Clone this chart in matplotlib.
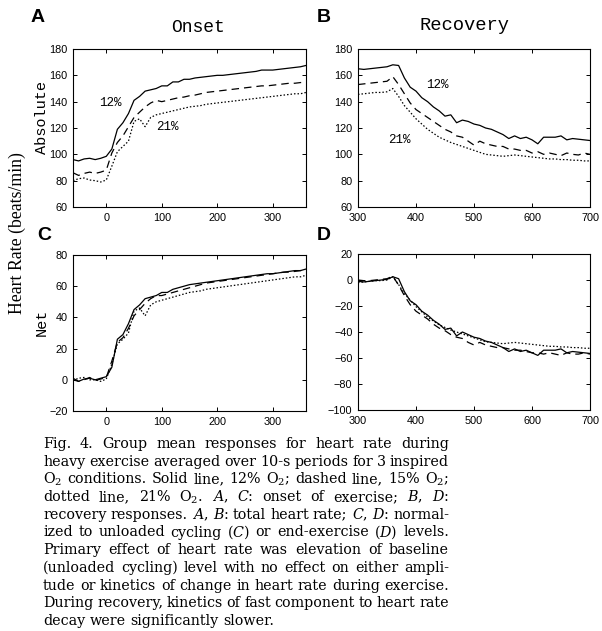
import matplotlib
matplotlib.use("Agg")
import matplotlib.pyplot as plt

# --- data (heart rate, 10-s means) ---
t_onset = [-60, -50, -40, -30, -20, -10, 0, 10, 20, 30, 40, 50, 60, 70, 80, 90, 100,
           110, 120, 130, 140, 150, 160, 170, 180, 190, 200, 210, 220, 230, 240, 250,
           260, 270, 280, 290, 300, 310, 320, 330, 340, 350, 360]
t_recov = [300, 310, 320, 330, 340, 350, 360, 370, 380, 390, 400, 410, 420, 430, 440,
           450, 460, 470, 480, 490, 500, 510, 520, 530, 540, 550, 560, 570, 580, 590,
           600, 610, 620, 630, 640, 650, 660, 670, 680, 690, 700]

abs_onset_12 = [96, 95, 96.5, 97, 96, 97, 98.5, 104, 119, 124, 131, 141, 144, 148, 149, 150,
                152, 152, 155, 155, 157, 157, 158, 158.5, 159, 159.5, 160, 160, 160.5, 161,
                161.5, 162, 162.5, 163, 164, 164, 164, 164.5, 165, 165.5, 166, 166.5, 167.5]
abs_onset_15 = [86, 84, 85.5, 86.5, 85.5, 86.5, 88, 101, 109, 114, 121, 128, 132, 136, 139, 141,
                140, 141, 142, 143, 143.5, 144.5, 145, 146, 147, 147.5, 148, 148.5, 149, 149.5,
                150, 150.5, 151, 151.5, 152, 152, 152.5, 153, 153.5, 154, 154, 154.5, 155]
abs_onset_21 = [80, 81.5, 82, 80.5, 80, 79, 80.5, 91, 102, 106, 110, 125, 127, 121, 128, 130,
                131, 132, 133, 134, 135, 136, 136.5, 137, 138, 138.5, 139, 139.5, 140, 140.5,
                141, 141.5, 142, 142.5, 143, 143.5, 144, 144.5, 145, 145.5, 146, 146, 147]

abs_recov_12 = [165, 164.5, 165, 165.5, 166, 166.5, 168, 167.5, 158, 151, 148, 143, 140, 136,
                133, 129, 130, 124, 126, 125, 123, 122, 120, 119, 117, 115, 112, 114, 112, 113,
                111, 108, 113, 113, 113, 114, 111, 112, 111.5, 111, 110.5]
abs_recov_15 = [153, 153.5, 154, 154.5, 155, 155.5, 159, 153, 146, 139, 134, 131, 128, 125,
                122, 119, 117, 114, 113, 110, 107, 110, 108, 107, 106, 106, 104, 104, 103, 103,
                101, 102, 100, 101, 100, 99, 101, 100, 99.5, 101, 100]
abs_recov_21 = [145.5, 146, 146.5, 147, 147, 147.5, 150, 144, 137, 132, 127, 123, 119, 116,
                113, 111, 109, 107.5, 106, 104.5, 103, 101.5, 100, 99.5, 99, 98.5, 99, 99.5, 99,
                98.5, 98, 97.5, 97, 96.5, 96.5, 96, 96, 95.5, 95.5, 95, 95]

net_onset_12 = [0, -1, 0.5, 1, 0, 1, 2, 8, 26, 29, 36, 45, 48, 52, 53, 54, 56, 56, 58, 59, 60,
                61, 61.5, 62, 62.5, 63, 63.5, 64, 64.5, 65, 65.5, 66, 66.5, 67, 67.5, 68, 68,
                68.5, 69, 69.5, 70, 70, 71]
net_onset_15 = [1, -1, 0, 1.5, -0.5, 0.5, 1.5, 12, 24, 27, 33, 41, 45, 49, 52, 54, 54, 55, 56,
                57, 58, 59, 60, 61, 62, 62.5, 63, 63.5, 64, 64.5, 65, 65.5, 66, 66.5, 67, 67.5,
                68, 68.5, 69, 69, 69.5, 70, 70.5]
net_onset_21 = [-0.5, 1, 1.5, 0, 0, -1, 0.5, 10, 23, 26, 30, 44, 46, 41, 48, 50, 51, 52, 53,
                54, 55, 56, 56.5, 57, 58, 58.5, 59, 59.5, 60, 60.5, 61, 61.5, 62, 62.5, 63,
                63.5, 64, 64.5, 65, 65.5, 66, 66, 67]

net_recov_12 = [-1, -1.5, -1, -0.5, 0, 0.5, 2.5, 1, -9, -16, -19, -24, -27, -31, -34, -38,
                -37, -43, -40, -42, -44, -45, -47, -48, -50, -52, -55, -53, -55, -54, -56, -58,
                -54, -54, -54, -53, -56, -55, -55.5, -56, -56.5]
net_recov_15 = [0, -0.5, -0.5, 0, 0.5, 1, 3, -4, -12, -19, -24, -27, -30, -34, -37, -39, -42,
                -44, -45, -48, -50, -48, -50, -51, -52, -52, -53, -54, -54, -55, -56, -56, -57,
                -56, -57, -58, -56, -57, -57, -56, -57]
net_recov_21 = [-2, -1.5, -1, -0.5, -0.5, 0, 2.5, -3.5, -10.5, -15.5, -20.5, -24.5, -28.5,
                -31.5, -34.5, -36.5, -38.5, -40, -41.5, -43, -44.5, -46, -47.5, -48, -48.5, -49,
                -48.5, -48, -48.5, -49, -49.5, -50, -50.5, -51, -51, -51.5, -51.5, -52, -52,
                -52.5, -52.5]

caption_lines = [
    "Fig. 4. Group mean responses for heart rate during",
    "heavy exercise averaged over 10-s periods for 3 inspired",
    "O$_2$ conditions. Solid line, 12% O$_2$; dashed line, 15% O$_2$;",
    "dotted line, 21% O$_2$. $A$, $C$: onset of exercise; $B$, $D$:",
    "recovery responses. $A$, $B$: total heart rate; $C$, $D$: normal-",
    "ized to unloaded cycling ($C$) or end-exercise ($D$) levels.",
    "Primary effect of heart rate was elevation of baseline",
    "(unloaded cycling) level with no effect on either ampli-",
    "tude or kinetics of change in heart rate during exercise.",
    "During recovery, kinetics of fast component to heart rate",
    "decay were significantly slower.",
]

plt.rcParams["mathtext.fontset"] = "dejavuserif"

W, H = 602, 631


def fx(px):
    return px / W


def fy(py):
    return 1 - py / H


fig = plt.figure(figsize=(W / 100, H / 100), dpi=100)
fig.patch.set_facecolor("white")

styles = {
    "12": dict(color="black", linestyle="-", linewidth=0.9),
    "15": dict(color="black", linestyle=(0, (6, 4)), linewidth=0.9),
    "21": dict(color="black", linestyle=(0, (1.2, 1.6)), linewidth=0.9),
}


def make_axes(rect, xlim, ylim, xticks, yticks):
    ax = fig.add_axes(rect)
    ax.set_xlim(*xlim)
    ax.set_ylim(*ylim)
    ax.set_xticks(xticks)
    ax.set_yticks(yticks)
    ax.tick_params(direction="in", top=True, right=True, length=3, width=0.7,
                   labelsize=7.8, pad=4)
    for lab in ax.get_xticklabels() + ax.get_yticklabels():
        lab.set_family("Liberation Sans")
    for s in ax.spines.values():
        s.set_linewidth(0.8)
    return ax


ax_a = make_axes([fx(73), fy(207), fx(306) - fx(73), fy(49) - fy(207)],
                 (-60, 360), (60, 180), [0, 100, 200, 300], range(60, 181, 20))
ax_b = make_axes([fx(358), fy(207), fx(590) - fx(358), fy(49) - fy(207)],
                 (300, 700), (60, 180), range(300, 701, 100), range(60, 181, 20))
ax_c = make_axes([fx(73), fy(411), fx(306) - fx(73), fy(255) - fy(411)],
                 (-60, 360), (-20, 80), [0, 100, 200, 300], range(-20, 81, 20))
ax_d = make_axes([fx(358), fy(410), fx(590) - fx(358), fy(254) - fy(410)],
                 (300, 700), (-100, 20), range(300, 701, 100), range(-100, 21, 20))

ax_a.plot(t_onset, abs_onset_12, **styles["12"])
ax_a.plot(t_onset, abs_onset_15, **styles["15"])
ax_a.plot(t_onset, abs_onset_21, **styles["21"])
ax_b.plot(t_recov, abs_recov_12, **styles["12"])
ax_b.plot(t_recov, abs_recov_15, **styles["15"])
ax_b.plot(t_recov, abs_recov_21, **styles["21"])
ax_c.plot(t_onset, net_onset_12, **styles["12"])
ax_c.plot(t_onset, net_onset_15, **styles["15"])
ax_c.plot(t_onset, net_onset_21, **styles["21"])
ax_d.plot(t_recov, net_recov_12, **styles["12"])
ax_d.plot(t_recov, net_recov_15, **styles["15"])
ax_d.plot(t_recov, net_recov_21, **styles["21"])

mono = "Liberation Mono"
ax_a.text(8, 139, "12%", family=mono, fontsize=9, ha="center", va="center")
ax_a.text(110, 121, "21%", family=mono, fontsize=9, ha="center", va="center")
ax_b.text(437, 153, "12%", family=mono, fontsize=9, ha="center", va="center")
ax_b.text(371, 111, "21%", family=mono, fontsize=9, ha="center", va="center")

# titles, panel letters, axis labels
fig.text(fx(198), fy(27), "Onset", family=mono, fontsize=13, ha="center", va="center")
fig.text(fx(464), fy(26), "Recovery", family=mono, fontsize=13.5, ha="center", va="center")
for letter, px, py in [("A", 31, 22), ("B", 317, 22), ("C", 37, 240), ("D", 317, 240)]:
    fig.text(fx(px), fy(py), letter, family="Liberation Sans", fontweight="bold",
             fontsize=14, ha="left", va="baseline")
fig.text(fx(42), fy(117), "Absolute", family=mono, fontsize=11, rotation=90,
         ha="center", va="center")
fig.text(fx(42), fy(322), "Net", family=mono, fontsize=11, rotation=90,
         ha="center", va="center")
fig.text(fx(17), fy(233), "Heart Rate (beats/min)", family="Liberation Serif",
         fontsize=12.8, rotation=90, ha="center", va="center")

# justified caption
renderer = fig.canvas.get_renderer()
left, right = 43, 449
for i, line in enumerate(caption_lines):
    words = line.split(" ")
    ypos = fy(448 + i * 17.7)
    texts = [fig.text(0, ypos, w, family="DejaVu Serif", fontsize=10.3,
                      ha="left", va="baseline") for w in words]
    widths = [t.get_window_extent(renderer).width for t in texts]
    if i < len(caption_lines) - 1 and len(words) > 1:
        gap = max(2.5, (right - left - sum(widths)) / (len(words) - 1))
    else:
        gap = 4.5
    x = left
    for t, w in zip(texts, widths):
        t.set_x(fx(x))
        x += w + gap

fig.savefig("out.png", dpi=100)
